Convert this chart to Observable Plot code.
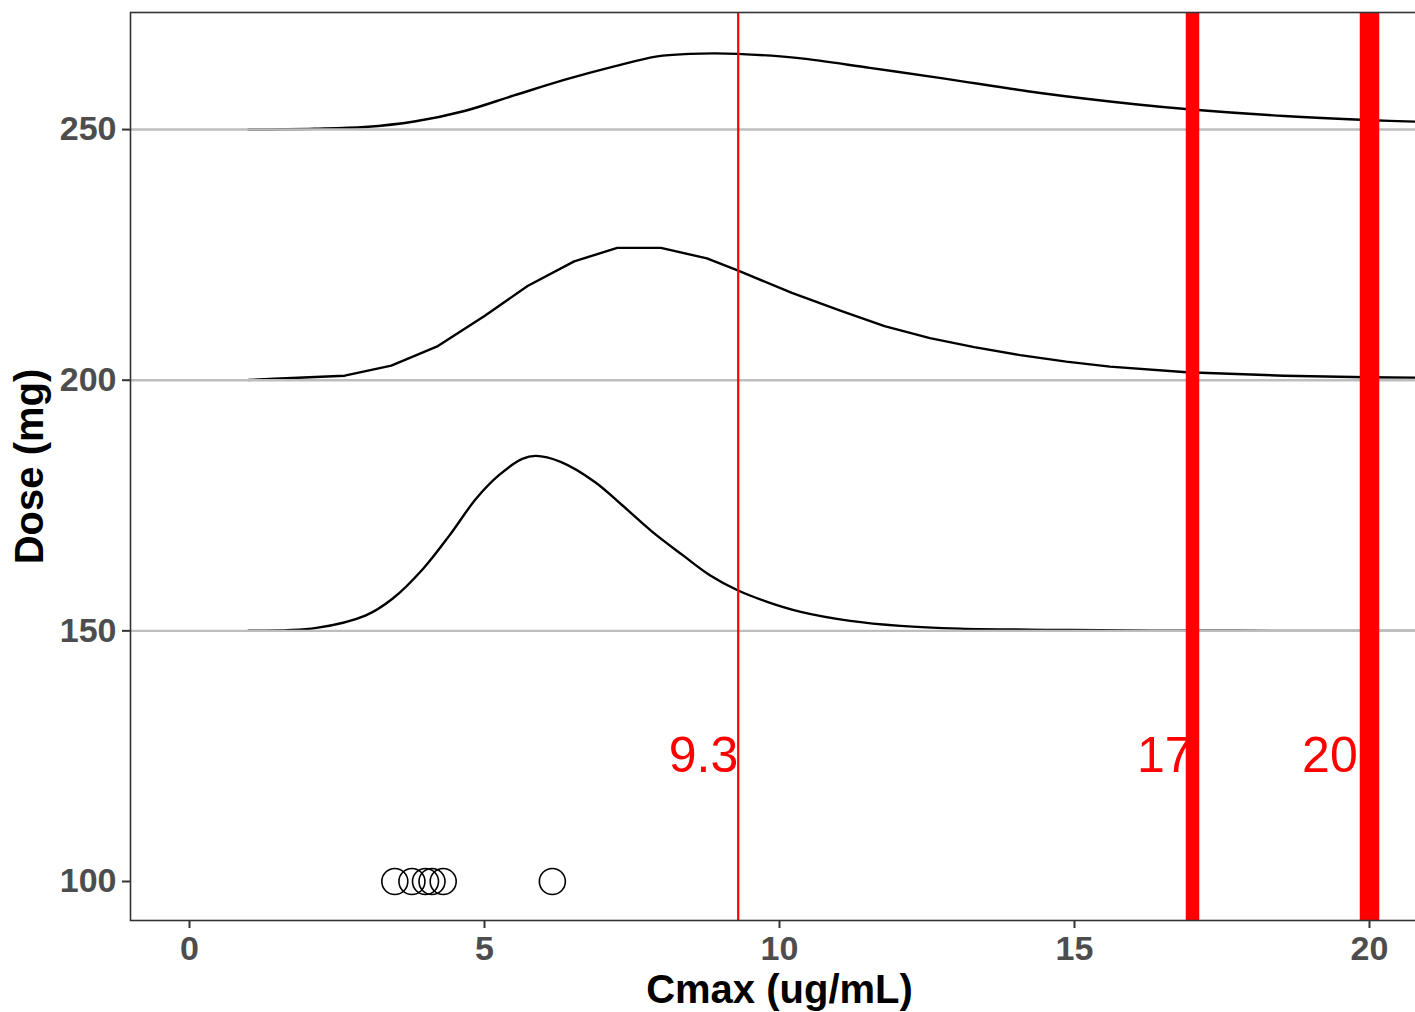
<!DOCTYPE html>
<html><head><meta charset="utf-8">
<script src="https://cdn.jsdelivr.net/npm/d3@7"></script>
<script src="https://cdn.jsdelivr.net/npm/@observablehq/plot@0.6"></script>
<style>
html,body{margin:0;padding:0;background:#fff;overflow:hidden;}
#wrap{width:1415px;height:1012px;overflow:hidden;}
#wrap svg{max-width:none !important;display:block;}
g[aria-label="x-axis tick label"] text, g[aria-label="y-axis tick label"] text{font-weight:bold;}
</style></head><body><div id="wrap"></div>
<script>
// ---- data ----
const doseLevels = [150, 200, 250];
const yTicks = [100, 150, 200, 250];
const xTicks = [0, 5, 10, 15, 20];
const observedDose = 100;
const cmaxObserved = [3.48, 3.77, 4.00, 4.11, 4.30, 6.15];

const ridge150X = [1.0, 2.15, 2.99, 3.44, 3.96, 4.41, 4.86, 5.25, 5.64, 5.87, 6.29, 6.87, 7.33, 7.84, 8.36, 8.82, 9.29, 9.79, 10.36, 11.2, 12.05, 13.06, 14.6, 16.3, 18.8, 20.98];
const ridge150H = [0.05, 0.6, 3.1, 6.4, 12.4, 19.1, 26.4, 31.1, 34.3, 34.9, 33.7, 29.7, 25.1, 19.8, 15.1, 11.1, 8.1, 5.8, 3.8, 2.0, 1.0, 0.45, 0.2, 0.05, 0.0, 0.0];

const ridge200X = [1.0, 1.44, 2.63, 3.42, 4.21, 5.0, 5.73, 6.52, 7.25, 7.99, 8.77, 9.29, 10.21, 11.03, 11.78, 12.55, 13.3, 14.08, 14.86, 15.6, 16.9, 18.55, 19.95, 20.98];
const ridge200H = [0.05, 0.3, 0.9, 2.9, 6.8, 12.8, 18.8, 23.7, 26.4, 26.4, 24.3, 21.9, 17.4, 13.9, 10.8, 8.4, 6.6, 5.0, 3.7, 2.7, 1.6, 0.9, 0.6, 0.5];

const ridge250X = [1.0, 1.6, 2.12, 2.97, 3.81, 4.66, 5.50, 6.35, 7.20, 7.93, 8.48, 8.9, 9.29, 10.29, 11.53, 12.77, 14.42, 16.07, 16.98, 18.55, 19.95, 20.98];
const ridge250H = [0.0, 0.05, 0.15, 0.5, 1.6, 3.7, 6.8, 9.9, 12.6, 14.6, 15.1, 15.2, 15.1, 14.3, 12.3, 10.2, 7.3, 5.0, 4.0, 2.7, 1.9, 1.5];

const thresholds = [9.3, 17, 20];
const thresholdLabels = ["9.3", "17", "20"];
const thresholdLabelX = [9.3, 17, 19.8];
const thresholdLabelDose = 125;

// ---- build tables ----
function ridge(base, xs, hs) { return xs.map((x, i) => ({x, y: base + hs[i]})); }
const r150 = ridge(150, ridge150X, ridge150H);
const r200 = ridge(200, ridge200X, ridge200H);
const r250 = ridge(250, ridge250X, ridge250H);
const obs = cmaxObserved.map(c => ({x: c, y: observedDose}));
const labels = thresholdLabels.map((t, i) => ({x: thresholdLabelX[i], y: thresholdLabelDose, t}));

const font = "'Liberation Sans', Arial, Helvetica, sans-serif";

const chart = Plot.plot({
  width: 1428, height: 1012,
  marginTop: 12, marginBottom: 92, marginLeft: 130, marginRight: 0,
  style: {fontFamily: font, background: "#fff", maxWidth: "none"},
  x: {domain: [-1, 21]},
  y: {domain: [92.22, 273.35]},
  marks: [
    Plot.line(r150, {x: "x", y: "y", stroke: "black", strokeWidth: 2.4, curve: "catmull-rom", clip: true}),
    Plot.line(r200, {x: "x", y: "y", stroke: "black", strokeWidth: 2.4, curve: "linear", clip: true}),
    Plot.line(r250, {x: "x", y: "y", stroke: "black", strokeWidth: 2.4, curve: "catmull-rom", clip: true}),
    Plot.ruleY(doseLevels, {stroke: "#BEBEBE", strokeWidth: 2.4}),
    Plot.dot(obs, {x: "x", y: "y", r: 13, stroke: "black", fill: "none", strokeWidth: 1.6}),
    Plot.ruleX([thresholds[0]], {stroke: "red", strokeWidth: 2.2}),
    Plot.ruleX([thresholds[1]], {stroke: "red", strokeWidth: 13.5}),
    Plot.ruleX([thresholds[2]], {stroke: "red", strokeWidth: 19.5}),
    Plot.text(labels, {x: "x", y: "y", text: "t", fill: "red", fontSize: 50, textAnchor: "end", lineAnchor: "middle"}),
    Plot.frame({stroke: "#333333", strokeWidth: 1.6}),
    Plot.axisX(xTicks, {tickSize: 8, tickPadding: 7, stroke: "#333333", strokeWidth: 2, fill: "#4D4D4D", fontSize: 34, fontWeight: "bold", label: null}),
    Plot.axisY(yTicks, {tickSize: 8, tickPadding: 6, stroke: "#333333", strokeWidth: 2, fill: "#4D4D4D", fontSize: 34, fontWeight: "bold", label: null}),
    Plot.text(["Cmax (ug/mL)"], {frameAnchor: "bottom", dy: 70, fontSize: 40, fontWeight: "bold", fill: "black", lineAnchor: "middle"}),
    Plot.text(["Dose (mg)"], {frameAnchor: "left", dx: -100, rotate: -90, fontSize: 40, fontWeight: "bold", fill: "black", lineAnchor: "middle", textAnchor: "middle"})
  ]
});
document.getElementById("wrap").appendChild(chart);
</script>
</body></html>
